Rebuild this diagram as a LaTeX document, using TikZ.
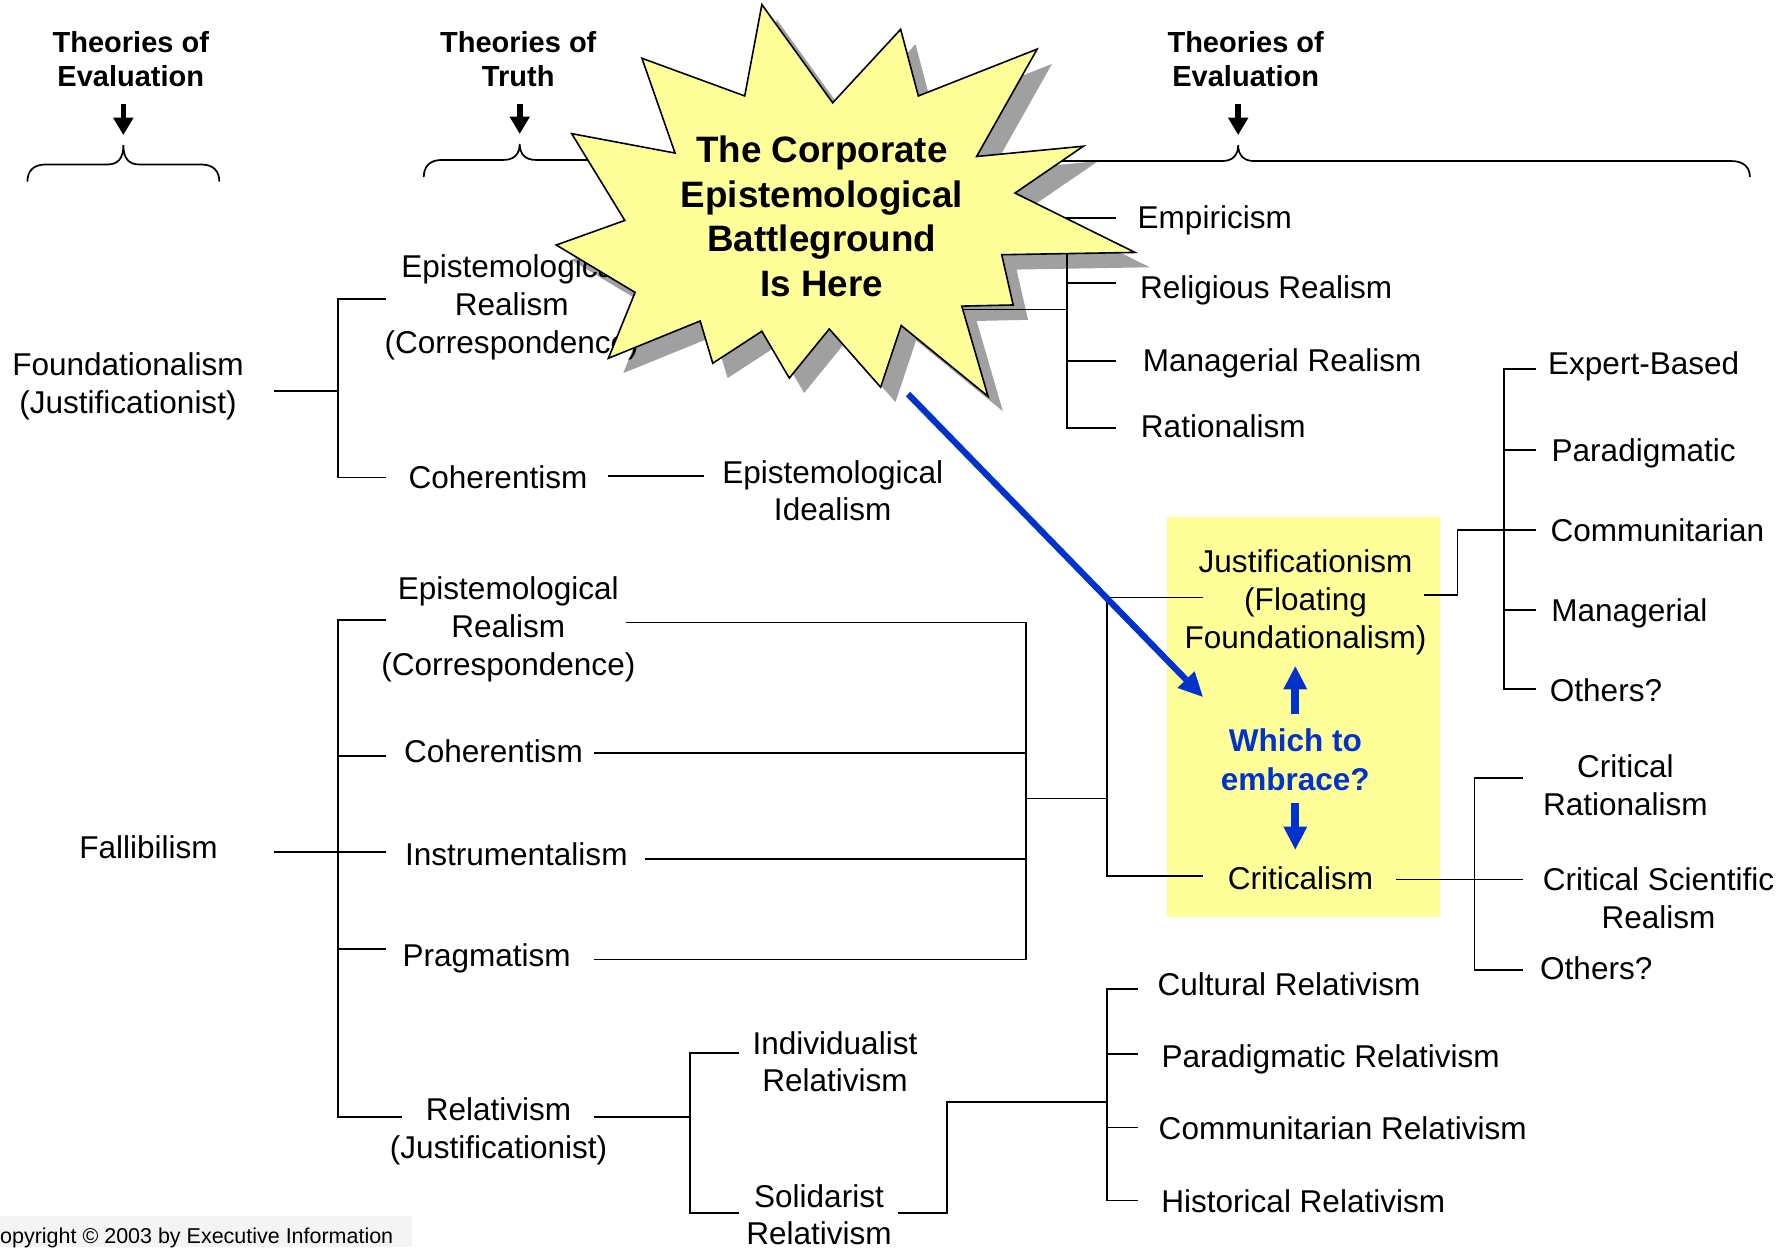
\documentclass[tikz,border=0pt]{standalone}
\usepackage{fontspec}
\setmainfont{Liberation Sans}
\usetikzlibrary{arrows.meta}

\definecolor{burstfill}{HTML}{FFFF99}
\definecolor{burstshade}{HTML}{A0A0A0}
\definecolor{choiceblue}{HTML}{0033CC}
\definecolor{notegray}{HTML}{F4F4F4}

\tikzset{
  term/.style={font=\fontsize{27.6}{33}\selectfont, align=center, inner sep=0pt},
  heading/.style={font=\bfseries\fontsize{25.4}{30}\selectfont, align=center, inner sep=0pt},
  bursttext/.style={font=\bfseries\fontsize{32.2}{39}\selectfont, align=center, inner sep=0pt},
  asktext/.style={font=\bfseries\fontsize{27.6}{34}\selectfont, align=center, inner sep=0pt, text=choiceblue},
  note/.style={font=\fontsize{18.8}{22}\selectfont, inner sep=0pt},
  link/.style={line width=1.5pt},
  downarrow/.style={line width=5pt, -{Triangle[length=15pt,width=18pt,line width=0pt]}},
  choice/.style={line width=7pt, draw=choiceblue, -{Triangle[length=20pt,width=21pt,line width=0pt]}},
  aim/.style={line width=5.5pt, draw=choiceblue, -{Triangle[length=21pt,width=21pt,line width=0pt]}},
  burst/.style={insert path={(667,4) -- (729,90) -- (788.5,25.7) -- (804,84) -- (908,43)
    -- (855,137) -- (948.5,128) -- (888.6,169) -- (993.7,221) -- (877,223) -- (887,267)
    -- (842,268) -- (865,347) -- (789,285) -- (771,339) -- (726,288) -- (691,331)
    -- (667,290) -- (624,318) -- (613,281) -- (532.6,313.7) -- (556,256) -- (487,214.5)
    -- (547,193) -- (500.5,117) -- (591,134) -- (562,51) -- (652,84) -- cycle}},
}

\begin{document}
\begin{tikzpicture}[x=1pt,y=-1pt]
  \useasboundingbox (0,0) rectangle (1568,1092);
  \clip (0,0) rectangle (1568,1092);

  % copyright strip
  \fill[notegray] (0,1065) rectangle (361,1092);
  \node[note, anchor=base west] (copy) at (-13.6,1089) {Copyright © 2003 by Executive Information};

  % shadow of the burst
  \fill[burstshade, shift={(13,13)}, burst];

  % headings with braces
  \node[heading] (hdl) at (114.5,51.5) {Theories of\\Evaluation};
  \node[heading] (hdm) at (453.7,51.5) {Theories of\\Truth};
  \node[heading] (hdr) at (1090.6,51.5) {Theories of\\Evaluation};
  \foreach \xa/\xt/\xb/\yt/\yl/\ye/\n in {24/108/192/127/144/159/l, 371/455/539/126/140/155/m, 636/1084/1532/127/141/155/r}{
    \coordinate (tip\n) at (\xt,\yt);
    \draw[link] (\xa,\ye) .. controls (\xa,\yl+6) and (\xa+5,\yl) .. (\xa+16,\yl) -- (\xt-14,\yl)
      .. controls (\xt-5,\yl) and (\xt,\yl-5) .. (tip\n)
      .. controls (\xt,\yl-5) and (\xt+5,\yl) .. (\xt+14,\yl) -- (\xb-16,\yl)
      .. controls (\xb-5,\yl) and (\xb,\yl+6) .. (\xb,\ye);
  }
  \foreach \n in {l,m,r}
    \draw[downarrow] (hd\n.south -| tip\n) ++(0,15) -- ([yshift=9pt]tip\n);

  % the box of the choice
  \fill[burstfill] (1022,453) rectangle (1261,803);

  % Foundationalism branch
  \node[term] (found) at (112,338.4) {Foundationalism\\(Justificationist)};
  \node[term] (er1) at (448,269) {Epistemological\\Realism\\(Correspondence)};
  \node[term] (coh1) at (436,418) {Coherentism};
  \node[term] (ideal) at (729,429.5) {Epistemological\\Idealism};
  \coordinate (fndL) at (240,342);
  \coordinate (fndJ) at (296,342);
  \coordinate (er1L) at (338,262);
  \coordinate (coh1L) at (338,418);
  \coordinate (coh1R) at (532,417);
  \coordinate (idealL) at (616,417);
  \draw[link] (fndL) -- (fndJ);
  \draw[link] (er1L) -| (fndJ) |- (coh1L);
  \draw[link] (coh1R) -- (idealL);

  % realism cluster
  \node[term] (emp) at (1063.5,193) {Empiricism};
  \node[term] (rel) at (1108.5,254) {Religious Realism};
  \node[term] (manr) at (1122.5,318) {Managerial Realism};
  \node[term] (rat) at (1071,373) {Rationalism};
  \coordinate (er1R) at (560,271);
  \coordinate (realJ) at (934,271);
  \coordinate (empL) at (977,191);
  \coordinate (relL) at (977,248);
  \coordinate (manrL) at (977,316);
  \coordinate (ratL) at (977,375);
  \draw[link] (er1R) -- (realJ);
  \draw[link] (empL) -| (realJ) |- (ratL);
  \draw[link] (relL) -- (relL -| realJ);
  \draw[link] (manrL) -- (manrL -| realJ);

  % Fallibilism branch
  \node[term] (fal) at (130,742) {Fallibilism};
  \node[term] (er2) at (445,551) {Epistemological\\Realism\\(Correspondence)};
  \node[term] (coh2) at (432,658) {Coherentism};
  \node[term] (instr) at (452,748) {Instrumentalism};
  \node[term] (prag) at (426,839) {Pragmatism};
  \node[term] (relv) at (436.5,990.4) {Relativism\\(Justificationist)};
  \coordinate (falL) at (240,746);
  \coordinate (falJ) at (296,746);
  \coordinate (er2L) at (338,543);
  \coordinate (coh2L) at (338,662);
  \coordinate (instrL) at (338,746);
  \coordinate (pragL) at (338,831);
  \coordinate (relvL) at (352,978);
  \draw[link] (falL) -- (instrL);
  \draw[link] (er2L) -| (falJ) |- (relvL);
  \draw[link] (coh2L) -- (coh2L -| falJ);
  \draw[link] (pragL) -- (pragL -| falJ);
  \coordinate (er2R) at (548,545);
  \coordinate (coh2R) at (520,659);
  \coordinate (instrR) at (565,752);
  \coordinate (pragR) at (520,840);
  \coordinate (truthJ) at (898,699);
  \coordinate (evalJ) at (969,699);
  \draw[link] (er2R) -| (truthJ) |- (pragR);
  \draw[link] (coh2R) -- (coh2R -| truthJ);
  \draw[link] (instrR) -- (instrR -| truthJ);
  \draw[link] (truthJ) -- (evalJ);

  % the two candidates
  \node[term] (just) at (1143,527.4) {Justificationism\\(Floating\\Foundationalism)};
  \node[asktext] (which) at (1134,665) {Which to\\embrace?};
  \node[term] (crit) at (1138.5,769) {Criticalism};
  \coordinate (justL) at (1053,523);
  \coordinate (critL) at (1053,767);
  \draw[link] (justL) -| (evalJ) |- (critL);

  % Justificationism leaves
  \node[term] (exp) at (1439,321) {Expert-Based};
  \node[term] (par) at (1439,397) {Paradigmatic};
  \node[term] (com) at (1451,464) {Communitarian};
  \node[term] (man) at (1426.5,537) {Managerial};
  \node[term] (oth1) at (1406,604) {Others?};
  \coordinate (justR) at (1247,521);
  \coordinate (justK) at (1276,464);
  \coordinate (justJ) at (1317,464);
  \coordinate (expL) at (1345,323);
  \coordinate (parL) at (1345,394);
  \coordinate (comL) at (1345,464);
  \coordinate (manL) at (1345,534);
  \coordinate (oth1L) at (1345,603);
  \draw[link] (justR) -| (justK) -- (comL);
  \draw[link] (expL) -| (justJ) |- (oth1L);
  \draw[link] (parL) -- (parL -| justJ);
  \draw[link] (manL) -- (manL -| justJ);

  % Criticalism leaves
  \node[term] (crat) at (1423,687.5) {Critical\\Rationalism};
  \node[term] (csr) at (1452,786.5) {Critical Scientific\\Realism};
  \node[term] (oth2) at (1397.5,848) {Others?};
  \coordinate (critR) at (1222,770);
  \coordinate (critJ) at (1291,770);
  \coordinate (cratL) at (1333,681);
  \coordinate (csrL) at (1333,770);
  \coordinate (oth2L) at (1333,849);
  \draw[link] (critR) -- (csrL);
  \draw[link] (cratL) -| (critJ) |- (oth2L);

  % Relativism leaves
  \node[term] (ind) at (731,929.5) {Individualist\\Relativism};
  \node[term] (sol) at (717,1063.5) {Solidarist\\Relativism};
  \node[term] (cul) at (1128.5,862) {Cultural Relativism};
  \node[term] (parr) at (1165,927) {Paradigmatic Relativism};
  \node[term] (comr) at (1175.5,988) {Communitarian Relativism};
  \node[term] (his) at (1141,1052) {Historical Relativism};
  \coordinate (relvR) at (520,978);
  \coordinate (relvJ) at (604,978);
  \coordinate (indL) at (647,922);
  \coordinate (solL) at (647,1062);
  \coordinate (solR) at (786,1062);
  \coordinate (solK) at (829,965);
  \coordinate (kindJ) at (969,965);
  \coordinate (culL) at (996,866);
  \coordinate (parrL) at (996,923);
  \coordinate (comrL) at (996,987);
  \coordinate (hisL) at (996,1051);
  \draw[link] (relvR) -- (relvJ);
  \draw[link] (indL) -| (relvJ) |- (solL);
  \draw[link] (solR) -| (solK) -- (kindJ);
  \draw[link] (culL) -| (kindJ) |- (hisL);
  \draw[link] (parrL) -- (parrL -| kindJ);
  \draw[link] (comrL) -- (comrL -| kindJ);

  % blue pointers
  \coordinate (upS) at ([yshift=13pt]which.north);
  \coordinate (upE) at (which.north |- just.south);
  \coordinate (dnS) at ([yshift=-11pt]which.south);
  \coordinate (dnE) at (which.south |- crit.north);
  \draw[choice] (upS) -- ([yshift=-10pt]upE);
  \draw[choice] (dnS) -- ([yshift=15pt]dnE);
  \coordinate (aimS) at (795,345);
  \coordinate (aimE) at (1053,610);
  \draw[aim] (aimS) -- (aimE);

  % the burst
  \draw[line width=1.4pt, fill=burstfill, burst];
  \node[bursttext] (battle) at (719.5,189.5) {The Corporate\\Epistemological\\Battleground\\Is Here};
\end{tikzpicture}
\end{document}
